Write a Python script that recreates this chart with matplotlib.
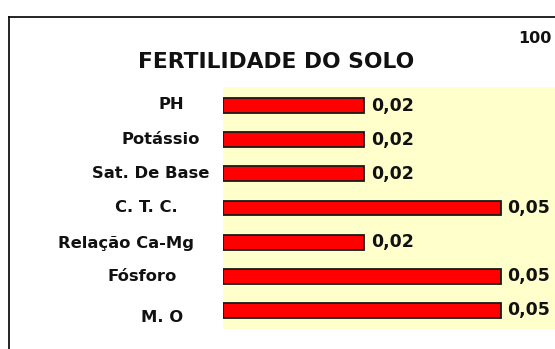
import matplotlib
matplotlib.use("Agg")
import matplotlib.pyplot as plt
from matplotlib.transforms import blended_transform_factory
from matplotlib.lines import Line2D

categories = ["PH", "Potássio", "Sat. De Base", "C. T. C.", "Relação Ca-Mg", "Fósforo", "M. O"]
values = [0.024, 0.024, 0.024, 0.047, 0.024, 0.047, 0.047]
title = "FERTILIDADE DO SOLO"
corner_text = "100"

W, H = 555, 349
fig = plt.figure(figsize=(W / 100, H / 100), dpi=100)
fig.patch.set_facecolor("white")

# plot area in pixels
L, R, T, B = 222.5, 555, 87, 329
ax = fig.add_axes([L / W, 1 - B / H, (R - L) / W, (B - T) / H])
ax.set_facecolor("#FFFFCC")
for s in ax.spines.values():
    s.set_visible(False)
ax.set_xticks([])
ax.set_yticks([])

ypos = list(range(len(categories)))
ax.barh(ypos, values, height=0.44, color="#FF0000", edgecolor="#1a1a1a", linewidth=1.3)
ax.set_xlim(0, (R - L) / 5915)
ax.set_ylim(len(categories) - 0.45, -0.55)

for y, v in zip(ypos, values):
    ax.annotate(f"{v:.2f}".replace(".", ","), xy=(v, y), xytext=(4.5, 0),
                textcoords="offset points", ha="left", va="center",
                fontsize=12.5, fontweight="bold", color="#111111")

# category labels (individually placed, as in the original)
label_cx = [171, 160.5, 151, 146.5, 126, 142.5, 162]
label_dy = [-0.04, 0.0, 0.0, 0.0, 0.03, 0.02, 0.2]
tr = blended_transform_factory(fig.transFigure, ax.transData)
for y, name, cx, dy in zip(ypos, categories, label_cx, label_dy):
    fig.text(cx / W, y + dy, name, transform=tr, ha="center", va="center",
             fontsize=11.8, fontweight="bold", color="#111111")

fig.text(276 / W, 1 - 62 / H, title, ha="center", va="center",
         fontsize=15.7, fontweight="bold", color="#111111")
fig.text(535 / W, 1 - 38.5 / H, corner_text, ha="center", va="center",
         fontsize=11.5, fontweight="bold", color="#111111")

# outer frame (left and top edges visible)
fig.add_artist(Line2D([8.5 / W, 8.5 / W], [1 - 16.5 / H, 0], transform=fig.transFigure,
                      color="black", linewidth=1.2))
fig.add_artist(Line2D([8.5 / W, 1], [1 - 16.5 / H, 1 - 16.5 / H], transform=fig.transFigure,
                      color="black", linewidth=1.2))

fig.savefig("out.png", dpi=100, facecolor="white")
